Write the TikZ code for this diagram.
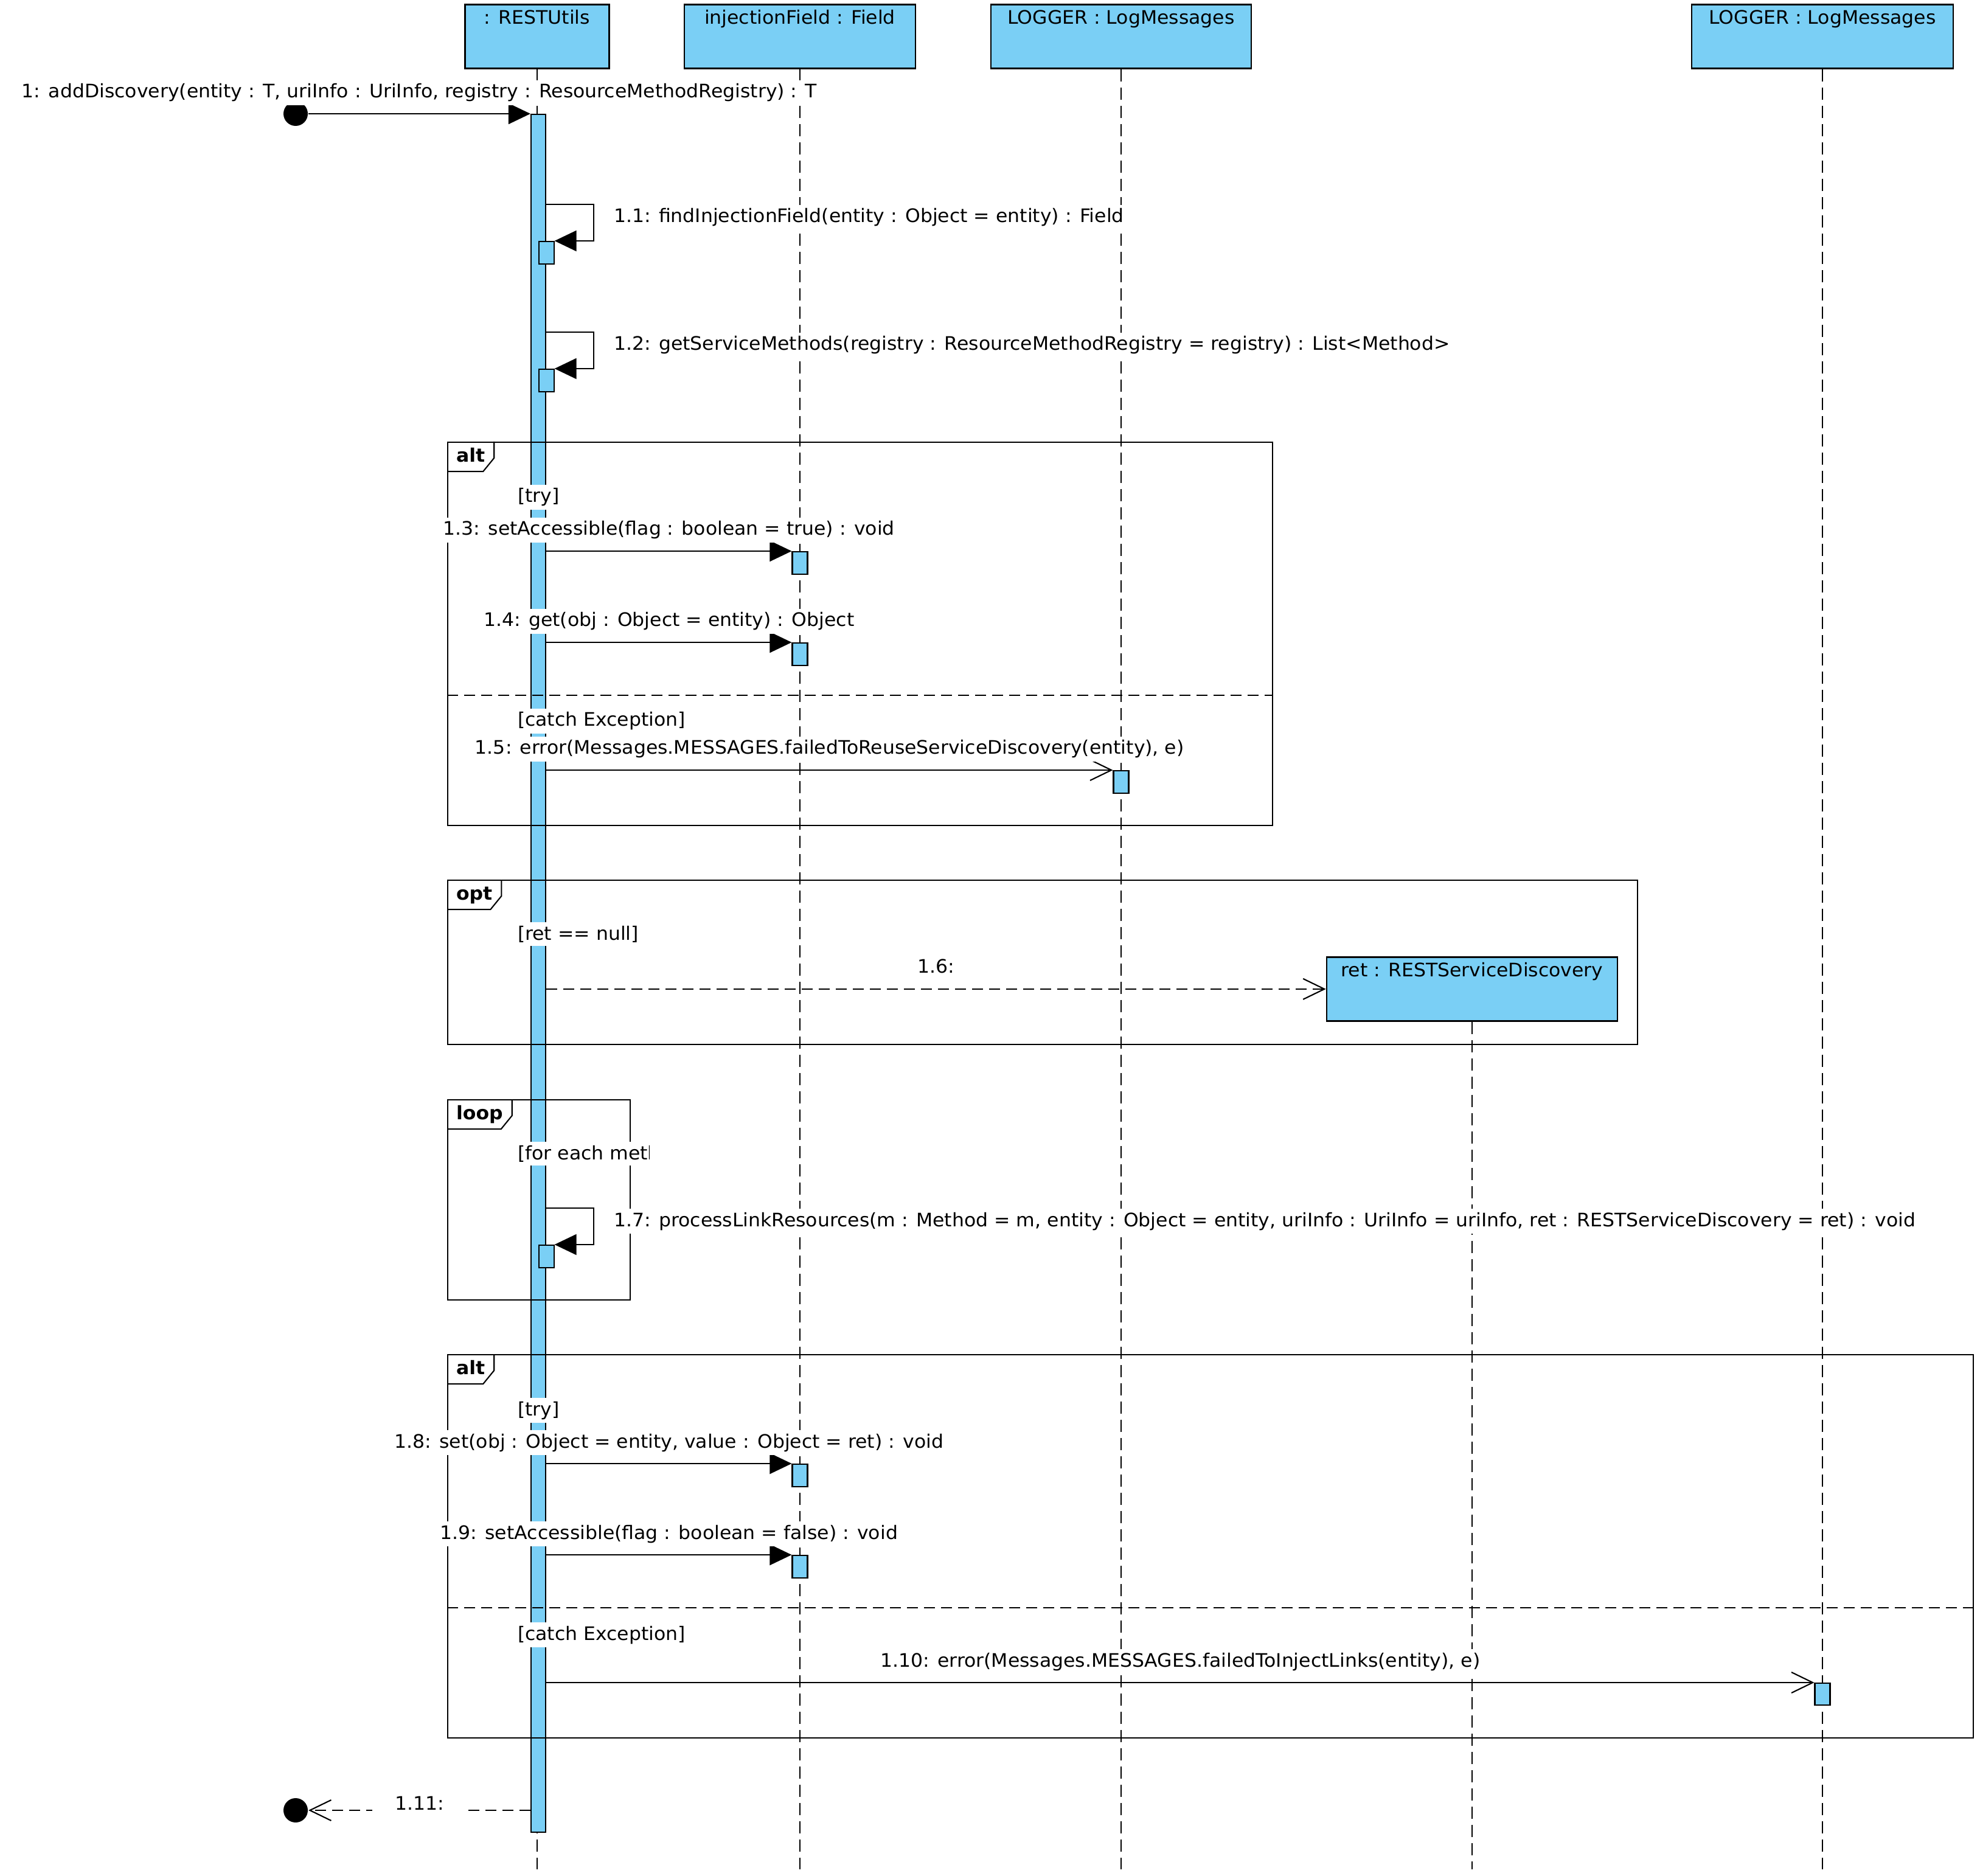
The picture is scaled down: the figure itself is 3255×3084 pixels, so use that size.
\documentclass[tikz,border=0pt]{standalone}
\usepackage{fontspec}
\setmainfont{DejaVu Sans}[FakeStretch=1.03]
\usepackage{tikz}
\usetikzlibrary{arrows.meta,positioning}
\usepackage{xcolor}
\definecolor{umlblue}{RGB}{122,207,245}

\begin{document}
\begin{tikzpicture}[
    x=0.1mm, y=-0.1mm,
    font=\fontsize{8.7}{10}\selectfont,
    line width=0.6pt,
    head/.style={draw=black, line width=0.8pt, fill=umlblue, anchor=north, inner xsep=0pt, inner ysep=0pt, minimum height=10.5mm, text height=3.2mm, text depth=7.3mm},
    lifeline/.style={dash pattern=on 2mm off 1mm},
    bar/.style={draw=black, fill=umlblue, inner sep=0pt, minimum width=2.4mm, anchor=north},
    act/.style={draw=black, fill=umlblue, inner sep=0pt, minimum width=2.5mm, minimum height=3.7mm, anchor=north},
    endpoint/.style={circle, fill=black, inner sep=0pt, minimum size=4mm},
    frame/.style={draw=black, anchor=north west, inner sep=0pt},
    tab/.style={anchor=north west, font=\fontsize{8.7}{10}\selectfont\bfseries, inner xsep=1.4mm, inner ysep=0pt, text height=3.2mm, text depth=1.5mm},
    sep/.style={dash pattern=on 1.8mm off 1mm},
    guard/.style={fill=white, anchor=base west, inner sep=0.6mm},
    lbl/.style={fill=white, inner sep=0.6mm, anchor=base, yshift=2.6mm},
    note/.style={fill=white, inner sep=0.6mm, anchor=base west},
    call/.style={-{Triangle[length=3.6mm, width=3.4mm]}},
    signal/.style={-{Straight Barb[length=3.5mm, width=3.4mm]}},
    reply/.style={signal, dash pattern=on 1.8mm off 1mm}
]
  \useasboundingbox (0,0) rectangle (3255,3084);

  % Objects
  \node[head, minimum width=23.7mm] (rest) at (883,6) {: RESTUtils};
  \node[head, minimum width=38mm] (field) at (1315,6) {injectionField : Field};
  \node[head, minimum width=42.8mm] (logA) at (1843,6) {LOGGER : LogMessages};
  \node[head, minimum width=43mm] (logB) at (2996,6) {LOGGER : LogMessages};
  \node[head, minimum width=47.8mm] (ret) at (2420,1572) {ret : RESTServiceDiscovery};

  % Lifelines
  \foreach \obj in {rest,field,logA,logB,ret}
    \draw[lifeline] (\obj) -- (\obj |- 0,3073);

  % Activations
  \node[bar, minimum height=282.4mm, xshift=0.2mm] (bar) at (rest |- 0,187) {};
  \node[act] (act11) at (bar.east |- 0,396) {};
  \node[act] (act12) at (bar.east |- 0,606) {};
  \node[act] (act13) at (field |- 0,906) {};
  \node[act] (act14) at (field |- 0,1056) {};
  \node[act] (act15) at (logA |- 0,1266) {};
  \node[act] (act17) at (bar.east |- 0,2046) {};
  \node[act] (act18) at (field |- 0,2406) {};
  \node[act] (act19) at (field |- 0,2556) {};
  \node[act, minimum height=3.6mm] (act110) at (logB |- 0,2766) {};

  % Frames
  \node[frame, minimum width=135.6mm, minimum height=63mm] (alt1) at (735,726) {};
  \node[frame, minimum width=195.6mm, minimum height=27mm] (opt) at (735,1446) {};
  \node[frame, minimum width=30mm, minimum height=32.9mm] (loop) at (735,1807) {};
  \node[frame, minimum width=250.8mm, minimum height=63mm] (alt2) at (735,2226) {};

  \foreach \frm/\kind in {alt1/alt,opt/opt,loop/loop,alt2/alt} {
    \node[tab] (\frm-tab) at (\frm.north west) {\kind};
    \draw (\frm-tab.south west) -- ([xshift=-1.8mm]\frm-tab.south east)
      -- ([yshift=-2.7mm]\frm-tab.north east) -- (\frm-tab.north east);
  }

  \draw[sep] (alt1.west |- 0,1143) -- (alt1.east |- 0,1143);
  \draw[sep] (alt2.west |- 0,2643) -- (alt2.east |- 0,2643);

  % Guards
  \node[guard] (g1) at (844,826) {[try]};
  \node[guard] (g2) at (844,1194) {[catch Exception]};
  \node[guard] (g3) at (844,1545) {[ret == null]};
  \begin{scope}
    \clip (735,1800) rectangle (1067,1940);
    \node[guard] (g4) at (844,1906) {[for each method]};
  \end{scope}
  \node[guard] (g5) at (844,2327) {[try]};
  \node[guard] (g6) at (844,2696) {[catch Exception]};

  % Messages
  \node[endpoint] (start) at (486,187) {};
  \node[endpoint] (finish) at (486,2976) {};

  \draw[call] (start) -- (bar.north west)
    node[lbl, midway] {1: addDiscovery(entity : T, uriInfo : UriInfo, registry : ResourceMethodRegistry) : T};

  \draw[call] (bar.east |- act11.north) ++(0,-60) -- ++(78,0)
    node[note, xshift=2.6mm, yshift=-3mm] {1.1: findInjectionField(entity : Object = entity) : Field}
    |- (act11.north east);
  \draw[call] (bar.east |- act12.north) ++(0,-60) -- ++(78,0)
    node[note, xshift=2.6mm, yshift=-3mm] {1.2: getServiceMethods(registry : ResourceMethodRegistry = registry) : List<Method>}
    |- (act12.north east);

  \draw[call] (bar.east |- act13.north) -- (act13.north west)
    node[lbl, midway] {1.3: setAccessible(flag : boolean = true) : void};
  \draw[call] (bar.east |- act14.north) -- (act14.north west)
    node[lbl, midway] {1.4: get(obj : Object = entity) : Object};
  \draw[signal] (bar.east |- act15.north) -- (act15.north west)
    node[lbl, midway] {1.5: error(Messages.MESSAGES.failedToReuseServiceDiscovery(entity), e)};

  \draw[reply] (bar.east |- ret.west) -- (ret.west)
    node[lbl, midway] {1.6:};

  \draw[call] (bar.east |- act17.north) ++(0,-60) -- ++(78,0)
    node[note, xshift=2.6mm, yshift=-3mm] {1.7: processLinkResources(m : Method = m, entity : Object = entity, uriInfo : UriInfo = uriInfo, ret : RESTServiceDiscovery = ret) : void}
    |- (act17.north east);

  \draw[call] (bar.east |- act18.north) -- (act18.north west)
    node[lbl, midway] {1.8: set(obj : Object = entity, value : Object = ret) : void};
  \draw[call] (bar.east |- act19.north) -- (act19.north west)
    node[lbl, midway] {1.9: setAccessible(flag : boolean = false) : void};
  \draw[signal] (bar.east |- act110.north) -- (act110.north west)
    node[lbl, midway] {1.10: error(Messages.MESSAGES.failedToInjectLinks(entity), e)};

  \draw[reply] (bar.west |- finish) -- (finish)
    node[midway, fill=white, inner sep=0.6mm, anchor=base, yshift=0.1mm, minimum width=15.6mm] {1.11:};

\end{tikzpicture}
\end{document}
